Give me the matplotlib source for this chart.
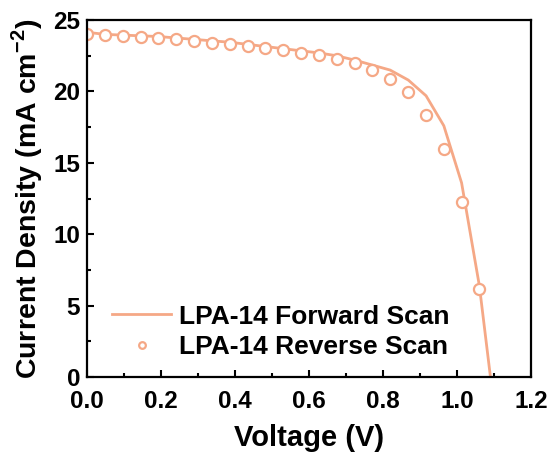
import numpy as np
import matplotlib.pyplot as plt

plt.rcParams['font.family'] = ['Liberation Sans', 'DejaVu Sans']
plt.rcParams['font.weight'] = 'bold'
plt.rcParams['mathtext.fontset'] = 'custom'
plt.rcParams['mathtext.rm'] = 'Liberation Sans:bold'
plt.rcParams['mathtext.bf'] = 'Liberation Sans:bold'
plt.rcParams['axes.unicode_minus'] = False

# forward scan (line)
v_fwd = [0.0, 0.048, 0.097, 0.145, 0.193, 0.241, 0.289, 0.337, 0.386, 0.434,
         0.482, 0.530, 0.578, 0.627, 0.675, 0.723, 0.771, 0.819, 0.868, 0.916,
         0.964, 1.012, 1.060, 1.090]
j_fwd = [24.15, 24.0, 23.95, 23.9, 23.85, 23.75, 23.65, 23.55, 23.45, 23.3,
         23.15, 23.0, 22.85, 22.7, 22.5, 22.2, 21.85, 21.5, 20.8, 19.7,
         17.6, 13.6, 6.4, 0.0]

# reverse scan (open circles)
v_rev = [0.0, 0.048, 0.097, 0.145, 0.193, 0.241, 0.289, 0.337, 0.386, 0.434,
         0.482, 0.530, 0.578, 0.627, 0.675, 0.723, 0.771, 0.819, 0.868, 0.916,
         0.964, 1.012, 1.060]
j_rev = [24.0, 23.95, 23.88, 23.83, 23.75, 23.68, 23.55, 23.4, 23.35, 23.2,
         23.05, 22.9, 22.72, 22.55, 22.27, 22.0, 21.5, 20.87, 19.93, 18.37,
         16.0, 12.25, 6.15]

col = '#F5A886'

fig = plt.figure(figsize=(5.51, 4.57), dpi=100)
ax = fig.add_axes([0.158, 0.175, 0.806, 0.781])

ax.plot(v_fwd, j_fwd, color=col, lw=2.0, label='LPA-14 Forward Scan')
ax.plot(v_rev, j_rev, ls='none', marker='o', ms=8, mfc='white', mec=col,
        mew=1.6, label='LPA-14 Reverse Scan')

ax.set_xlim(0, 1.2)
ax.set_ylim(0, 25)
ax.set_xticks(np.arange(0, 1.21, 0.2))
ax.set_xticks(np.arange(0.1, 1.2, 0.2), minor=True)
ax.set_yticks(np.arange(0, 26, 5))
ax.set_yticks(np.arange(2.5, 25, 5), minor=True)
ax.set_xticklabels(['0.0', '0.2', '0.4', '0.6', '0.8', '1.0', '1.2'])

ax.tick_params(which='both', direction='in', width=1.5, labelsize=17.5)
ax.tick_params(which='major', length=5)
ax.tick_params(which='minor', length=3)
ax.tick_params(axis='x', which='major', pad=9)
ax.tick_params(axis='y', which='major', pad=5)
for s in ax.spines.values():
    s.set_linewidth(1.6)

ax.set_xlabel('Voltage (V)', fontsize=21, fontweight='bold', labelpad=8)
ax.set_ylabel('Current Density (mA cm$^{-2}$)', fontsize=20.5,
              fontweight='bold', labelpad=6)

ax.legend(loc='lower left', bbox_to_anchor=(0.056, 0.05), frameon=False,
          fontsize=19, markerscale=0.6, handlelength=2.25, handletextpad=0.3,
          labelspacing=0.25, borderpad=0, borderaxespad=0)

fig.savefig('out.png', dpi=100)
